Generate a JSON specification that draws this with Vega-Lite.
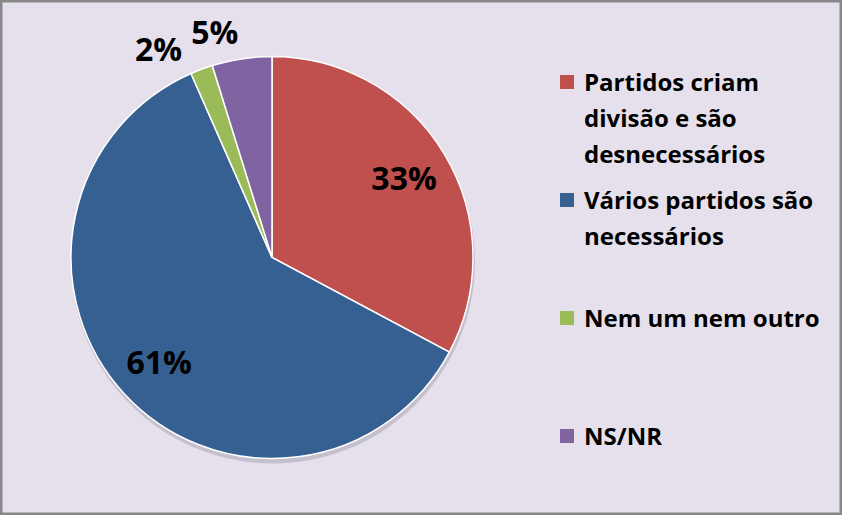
{
  "$schema": "https://vega.github.io/schema/vega-lite/v6.json",
  "width": 842,
  "height": 515,
  "autosize": {"type": "fit", "contains": "padding"},
  "padding": 0,
  "background": "#E5E0EC",
  "view": {"stroke": "#888888", "strokeWidth": 5},
  "config": {
    "view": {"stroke": "#888888", "strokeWidth": 5},
    "font": "Open Sans",
    "style": {"guide-label": {"lineHeight": 36, "dy": -10}}
  },
  "data": {
    "values": [
      {"categoria": "Partidos criam divisão e são desnecessários", "valor": 32.8, "rotulo": "33%", "ordem": 1},
      {"categoria": "Vários partidos são necessários", "valor": 60.6, "rotulo": "61%", "ordem": 2},
      {"categoria": "Nem um nem outro", "valor": 1.8, "rotulo": "2%", "ordem": 3},
      {"categoria": "NS/NR", "valor": 4.8, "rotulo": "5%", "ordem": 4}
    ]
  },
  "encoding": {
    "theta": {"field": "valor", "type": "quantitative", "stack": true},
    "order": {"field": "ordem", "type": "quantitative", "sort": "ascending"}
  },
  "layer": [
    {
      "mark": {"type": "arc", "outerRadius": 202, "xOffset": -148, "yOffset": 4, "fill": "#8a8494", "opacity": 0.35}
    },
    {
      "mark": {"type": "arc", "outerRadius": 201, "xOffset": -149, "stroke": "#ffffff", "strokeWidth": 1.5},
      "encoding": {
        "color": {
          "field": "categoria",
          "type": "nominal",
          "scale": {
            "domain": ["Partidos criam divisão e são desnecessários", "Vários partidos são necessários", "Nem um nem outro", "NS/NR"],
            "range": ["#C0504D", "#366092", "#9BBB59", "#8064A2"]
          },
          "legend": {
            "orient": "none",
            "legendX": 555,
            "legendY": 70,
            "title": null,
            "padding": 0,
            "symbolType": "square",
            "symbolSize": 196,
            "symbolStrokeWidth": 0,
            "labelFont": "Open Sans",
            "labelFontSize": 24,
            "labelFontWeight": "bold",
            "labelColor": "#000000",
            "labelBaseline": "top",
            "labelOffset": 5,
            "labelLimit": 0,
            "rowPadding": 20,
            "labelExpr": "datum.value === 'NS/NR' ? ['NS/NR', '', ''] : datum.value === 'Nem um nem outro' ? ['Nem um nem outro', '', ''] : datum.value === 'Vários partidos são necessários' ? ['Vários partidos são', 'necessários', ''] : ['Partidos criam', 'divisão e são', 'desnecessários']"
          }
        }
      }
    },
    {
      "mark": {"type": "text", "radius": 154, "xOffset": -149, "dy": 2, "font": "Open Sans", "fontSize": 32, "fontWeight": "bold", "fill": "#000000"},
      "encoding": {
        "text": {"condition": {"test": "datum.valor > 10", "field": "rotulo", "type": "nominal"}, "value": ""}
      }
    },
    {
      "mark": {"type": "text", "radius": 235, "xOffset": -149, "dx": -31, "dy": 14, "font": "Open Sans", "fontSize": 32, "fontWeight": "bold", "fill": "#000000"},
      "encoding": {
        "text": {"condition": {"test": "datum.ordem === 3", "field": "rotulo", "type": "nominal"}, "value": ""}
      }
    },
    {
      "mark": {"type": "text", "radius": 235, "xOffset": -149, "dx": -22, "dy": 9, "font": "Open Sans", "fontSize": 32, "fontWeight": "bold", "fill": "#000000"},
      "encoding": {
        "text": {"condition": {"test": "datum.ordem === 4", "field": "rotulo", "type": "nominal"}, "value": ""}
      }
    }
  ]
}
